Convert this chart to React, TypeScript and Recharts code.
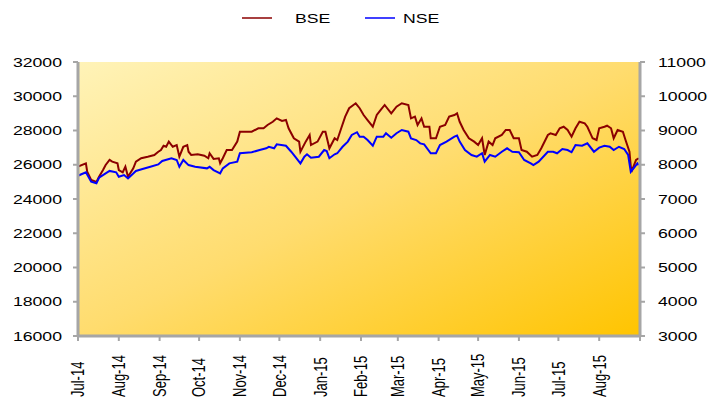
import React from 'react';
import { LineChart, Line, XAxis, YAxis, CartesianGrid, Legend } from 'recharts';

// Month tick labels (date axis, day offsets from 1 Jul 2014)
const monthLabels = ['Jul-14', 'Aug-14', 'Sep-14', 'Oct-14', 'Nov-14', 'Dec-14', 'Jan-15', 'Feb-15', 'Mar-15', 'Apr-15', 'May-15', 'Jun-15', 'Jul-15', 'Aug-15', ''];
const monthStartDays = [0, 31, 62, 92, 123, 153, 184, 215, 243, 274, 304, 335, 365, 396, 427];

// BSE (left axis)
const bseDays = [0, 6, 7, 10, 14, 16, 19, 21, 24, 26, 30, 31, 34, 36, 38, 42, 44, 48, 53, 58, 61, 63, 65, 67, 69, 72, 75, 77, 80, 83, 84, 86, 91, 96, 99, 100, 103, 107, 108, 110, 113, 117, 121, 123, 132, 137, 141, 144, 148, 151, 155, 158, 160, 164, 168, 169, 173, 176, 177, 182, 186, 188, 191, 195, 197, 200, 203, 206, 211, 214, 217, 220, 224, 227, 230, 233, 238, 242, 246, 251, 253, 256, 258, 261, 263, 267, 268, 272, 275, 279, 282, 286, 288, 290, 293, 297, 301, 304, 307, 309, 312, 315, 317, 322, 325, 328, 331, 335, 337, 341, 345, 349, 352, 357, 359, 363, 366, 369, 372, 375, 378, 381, 385, 387, 391, 394, 396, 400, 402, 405, 407, 410, 414, 416, 419, 420, 421, 424, 426];
const bseValues = [25890, 26080, 25600, 25110, 24990, 25300, 25690, 25990, 26280, 26180, 26085, 25690, 25560, 25890, 25300, 25790, 26180, 26380, 26470, 26570, 26760, 26860, 27110, 27050, 27350, 27050, 27150, 26470, 27050, 27150, 26760, 26570, 26610, 26530, 26380, 26670, 26340, 26380, 26085, 26380, 26860, 26860, 27350, 27930, 27930, 28130, 28130, 28320, 28510, 28710, 28555, 28610, 28130, 27545, 27350, 26760, 27350, 27740, 27150, 27350, 27930, 27930, 26960, 27545, 27445, 28130, 28810, 29300, 29590, 29300, 28905, 28610, 28220, 28905, 29200, 29490, 29005, 29390, 29590, 29490, 28710, 28810, 28320, 28710, 28220, 28220, 27545, 27545, 28220, 28320, 28810, 28905, 29005, 28510, 28030, 27545, 27350, 27150, 27545, 26570, 27350, 27150, 27545, 27740, 28030, 28030, 27545, 27545, 26860, 26760, 26470, 26570, 26960, 27740, 27835, 27740, 28130, 28220, 28030, 27640, 28130, 28510, 28420, 28220, 27545, 27445, 28130, 28220, 28280, 28130, 27545, 28030, 27930, 27445, 26760, 25890, 25690, 26280, 26380];

// NSE (right axis)
const nseDays = [0, 6, 10, 14, 16, 21, 24, 29, 31, 35, 38, 44, 49, 55, 61, 64, 71, 75, 77, 80, 84, 89, 98, 100, 103, 108, 110, 115, 121, 123, 132, 138, 143, 145, 149, 151, 158, 162, 165, 169, 172, 174, 177, 183, 187, 189, 191, 195, 197, 201, 205, 208, 212, 214, 217, 220, 224, 227, 232, 234, 238, 242, 246, 251, 253, 257, 260, 263, 268, 272, 275, 280, 286, 288, 290, 294, 299, 303, 307, 309, 313, 317, 322, 326, 330, 335, 339, 344, 346, 350, 357, 361, 364, 368, 372, 375, 378, 383, 387, 392, 396, 400, 404, 407, 411, 415, 418, 420, 423, 425, 426];
const nseValues = [7680, 7780, 7505, 7460, 7620, 7750, 7820, 7780, 7650, 7700, 7600, 7820, 7875, 7940, 8010, 8110, 8190, 8140, 7940, 8140, 7990, 7940, 7895, 7940, 7845, 7750, 7895, 8040, 8090, 8335, 8365, 8430, 8480, 8525, 8480, 8595, 8555, 8380, 8235, 8040, 8235, 8305, 8205, 8235, 8430, 8400, 8190, 8305, 8335, 8525, 8675, 8870, 8950, 8820, 8820, 8720, 8555, 8820, 8820, 8920, 8790, 8920, 9015, 8965, 8770, 8720, 8625, 8595, 8335, 8335, 8575, 8675, 8820, 8850, 8675, 8430, 8285, 8235, 8335, 8090, 8285, 8235, 8380, 8480, 8380, 8365, 8140, 8040, 7990, 8090, 8380, 8380, 8335, 8460, 8430, 8365, 8575, 8555, 8625, 8380, 8500, 8555, 8525, 8430, 8525, 8460, 8285, 7795, 7940, 8040, 7990];

const leftTicks = [16000, 18000, 20000, 22000, 24000, 26000, 28000, 30000, 32000];
const rightTicks = [3000, 4000, 5000, 6000, 7000, 8000, 9000, 10000, 11000];

const bseData = bseDays.map((d, i) => ({ d, v: bseValues[i] }));
const nseData = nseDays.map((d, i) => ({ d, v: nseValues[i] }));

const FONT = '"Liberation Sans", Arial, sans-serif';
const SX = 1.36;
const AXIS_GRAY = '#a6a6a6';

const LeftTick = (props: any) => {
  const { x, y, payload } = props;
  return (
    <g transform={`translate(${x},${y}) scale(${SX},1)`}>
      <text x={0} y={0} dy="0.36em" textAnchor="end" fontSize={13} fontFamily={FONT} fill="#000">
        {payload.value}
      </text>
    </g>
  );
};

const RightTick = (props: any) => {
  const { x, y, payload } = props;
  return (
    <g transform={`translate(${x},${y}) scale(${SX},1)`}>
      <text x={0} y={0} dy="0.36em" textAnchor="start" fontSize={13} fontFamily={FONT} fill="#000">
        {payload.value}
      </text>
    </g>
  );
};

const MonthTick = (props: any) => {
  const { x, y, payload } = props;
  const idx = monthStartDays.indexOf(payload.value);
  const label = idx >= 0 ? monthLabels[idx] : '';
  return (
    <g transform={`translate(${x},${y + 52}) scale(${SX},1) rotate(-90)`}>
      <text x={0} y={0} dy="0.36em" textAnchor="start" fontSize={13} fontFamily={FONT} fill="#000">
        {label}
      </text>
    </g>
  );
};

const legendX = [242, 365];
const renderLegend = (props: any) => {
  const { payload } = props;
  return (
    <svg width={709} height={36}>
      {(payload || []).map((p: any, i: number) => (
        <g key={p.value}>
          <line x1={legendX[i]} x2={legendX[i] + 30} y1={18} y2={18} stroke={p.color} strokeWidth={1.5} />
          <g transform={`translate(${legendX[i] + (i === 0 ? 53 : 38)},18) scale(${SX},1)`}>
            <text x={0} y={0} dy="0.36em" fontSize={13} fontFamily={FONT} fill="#000">
              {p.value}
            </text>
          </g>
        </g>
      ))}
    </svg>
  );
};

export default function App() {
  return (
    <div style={{ position: 'absolute', left: 0, top: 0, width: 709, height: 408, background: '#fff' }}>
      <LineChart width={709} height={408} margin={{ top: 62, right: 0, bottom: 0, left: 0 }}>
        <defs>
          <linearGradient id="bgGrad" x1="0" y1="0" x2="1" y2="1">
            <stop offset="0%" stopColor="#fff3b8" />
            <stop offset="50%" stopColor="#ffdc6e" />
            <stop offset="100%" stopColor="#ffc400" />
          </linearGradient>
        </defs>
        <CartesianGrid fill="url(#bgGrad)" horizontal={false} vertical={false} stroke="none" />
        <XAxis
          dataKey="d"
          type="number"
          domain={[0, 427]}
          ticks={monthStartDays}
          interval={0}
          height={72}
          tickSize={5}
          tickMargin={4}
          axisLine={{ stroke: AXIS_GRAY, strokeWidth: 3 }}
          tickLine={{ stroke: AXIS_GRAY, strokeWidth: 2 }}
          tick={<MonthTick />}
          allowDataOverflow
        />
        <YAxis
          yAxisId="left"
          orientation="left"
          domain={[16000, 32000]}
          ticks={leftTicks}
          interval={0}
          width={78}
          tickSize={5}
          tickMargin={11}
          axisLine={{ stroke: AXIS_GRAY, strokeWidth: 3 }}
          tickLine={{ stroke: AXIS_GRAY, strokeWidth: 2 }}
          tick={<LeftTick />}
        />
        <YAxis
          yAxisId="right"
          orientation="right"
          domain={[3000, 11000]}
          ticks={rightTicks}
          interval={0}
          width={69}
          tickSize={5}
          tickMargin={13}
          axisLine={{ stroke: AXIS_GRAY, strokeWidth: 3 }}
          tickLine={{ stroke: AXIS_GRAY, strokeWidth: 2 }}
          tick={<RightTick />}
        />
        <Legend
          verticalAlign="middle"
          align="center"
          layout="horizontal"
          content={renderLegend}
          wrapperStyle={{ top: 0, left: 0, width: 709, height: 36 }}
        />
        <Line
          name="BSE"
          data={bseData}
          dataKey="v"
          yAxisId="left"
          type="linear"
          stroke="#8b0000"
          strokeWidth={2}
          dot={false}
          activeDot={false}
          isAnimationActive={false}
        />
        <Line
          name="NSE"
          data={nseData}
          dataKey="v"
          yAxisId="right"
          type="linear"
          stroke="#0000ff"
          strokeWidth={2}
          dot={false}
          activeDot={false}
          isAnimationActive={false}
        />
      </LineChart>
    </div>
  );
}
